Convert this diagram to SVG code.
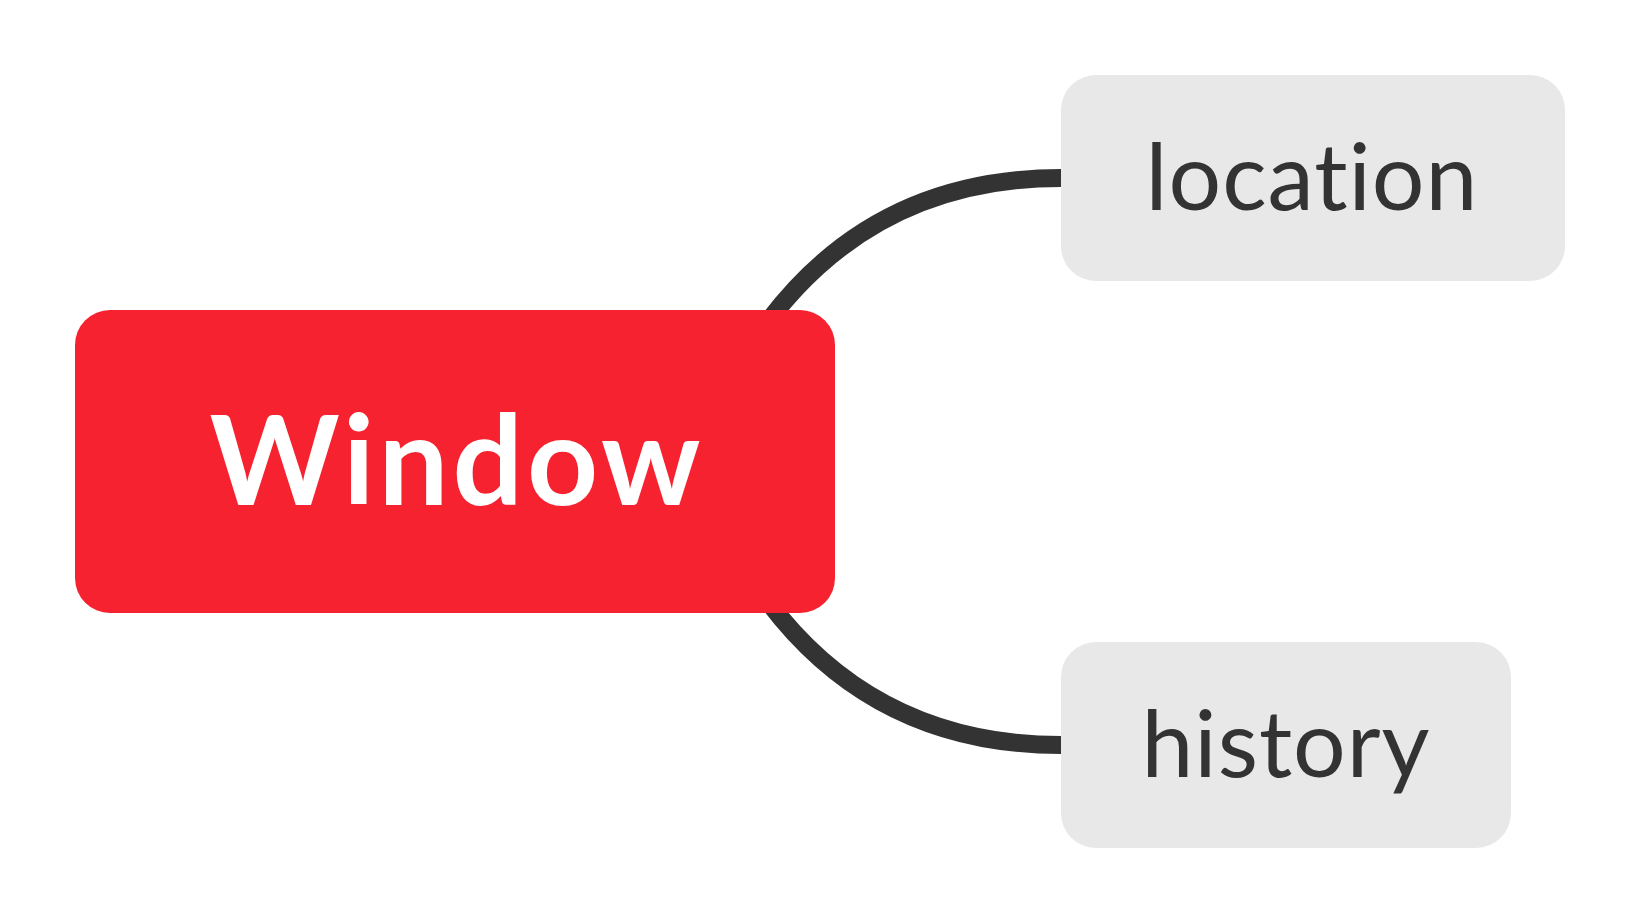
<svg xmlns="http://www.w3.org/2000/svg" width="1639" height="924" viewBox="0 0 1639 924">
<style>
.conn{fill:none;stroke:#333333;stroke-width:18}
text{font-variant-ligatures:none;font-feature-settings:"liga" 0}
.sub rect{fill:#e8e8e8}
.sub text{font-family:Lato,"Liberation Sans",sans-serif;font-size:93px;fill:#333333;text-anchor:middle;letter-spacing:1px}
.root rect{fill:#f7222f}
.root text{font-family:Lato,"Liberation Sans",sans-serif;font-size:124px;font-weight:bold;fill:#ffffff;text-anchor:middle;letter-spacing:4px}
</style>
<rect width="1639" height="924" fill="#ffffff"/>
<g id="connectors">
<path class="conn" d="M 1061 178 C 900 178 790 260 720 400"/>
<path class="conn" d="M 1061 745 C 900 745 790 663 720 523"/>
</g>
<g id="node-window" class="root">
<rect x="75" y="310" width="760" height="303" rx="35"/>
<text x="457" y="505">Window</text>
</g>
<g id="node-location" class="sub">
<rect x="1061" y="75" width="504" height="206" rx="35"/>
<text x="1312" y="210">location</text>
</g>
<g id="node-history" class="sub">
<rect x="1061" y="642" width="450" height="206" rx="35"/>
<text x="1286" y="777">history</text>
</g>
</svg>
